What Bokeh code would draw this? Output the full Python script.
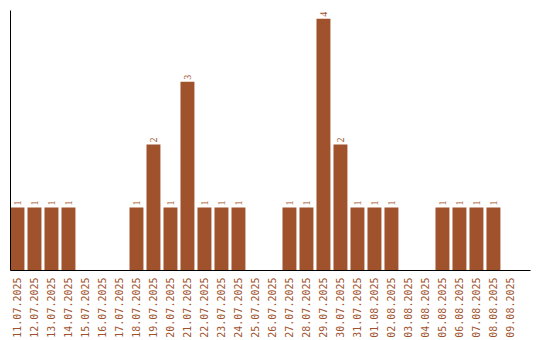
import math
from bokeh.plotting import figure
from bokeh.models import ColumnDataSource, Range1d, FixedTicker, LabelSet
from bokeh.embed import file_html
from bokeh.resources import INLINE

dates = ["11.07.2025", "12.07.2025", "13.07.2025", "14.07.2025", "15.07.2025",
         "16.07.2025", "17.07.2025", "18.07.2025", "19.07.2025", "20.07.2025",
         "21.07.2025", "22.07.2025", "23.07.2025", "24.07.2025", "25.07.2025",
         "26.07.2025", "27.07.2025", "28.07.2025", "29.07.2025", "30.07.2025",
         "31.07.2025", "01.08.2025", "02.08.2025", "03.08.2025", "04.08.2025",
         "05.08.2025", "06.08.2025", "07.08.2025", "08.08.2025", "09.08.2025"]
counts = [1, 1, 1, 1, 0, 0, 0, 1, 2, 1, 3, 1, 1, 1, 0,
          0, 1, 1, 4, 2, 1, 1, 1, 0, 0, 1, 1, 1, 1, 0]

COLOR = "#A0522D"
FONT = "DejaVu Sans Mono"

xs = list(range(len(dates)))
src = ColumnDataSource(dict(x=xs, y=counts))
lab_idx = [i for i, c in enumerate(counts) if c > 0]
lab_src = ColumnDataSource(dict(x=[xs[i] for i in lab_idx],
                                y=[counts[i] for i in lab_idx],
                                t=[str(counts[i]) for i in lab_idx]))

p = figure(width=540, height=340, output_backend="svg", toolbar_location=None,
           x_range=Range1d(-0.41, 30.18), y_range=Range1d(0, 4.13),
           min_border_left=10, min_border_right=10, min_border_top=10,
           min_border_bottom=70)
p.outline_line_color = None
p.xgrid.visible = False
p.ygrid.visible = False
p.background_fill_color = "white"
p.border_fill_color = "white"

p.vbar(x="x", top="y", width=0.82, bottom=0, source=src,
       fill_color=COLOR, line_color=None)

labels = LabelSet(x="x", y="y", text="t", source=lab_src, angle=math.pi / 2,
                  text_align="left", text_baseline="middle", y_offset=2,
                  text_font=FONT, text_font_size="10px", text_color=COLOR)
p.add_layout(labels)

xa = p.xaxis[0]
xa.ticker = FixedTicker(ticks=xs)
xa.major_label_overrides = {i: d for i, d in enumerate(dates)}
xa.major_label_orientation = math.pi / 2
xa.major_label_text_font = FONT
xa.major_label_text_font_size = "10px"
xa.major_label_text_color = COLOR
xa.major_tick_line_color = None
xa.minor_tick_line_color = None
xa.major_tick_out = 0
xa.major_tick_in = 0
xa.major_label_standoff = 7
xa.axis_line_color = "black"

ya = p.yaxis[0]
ya.ticker = FixedTicker(ticks=[])
ya.major_label_standoff = 0
ya.major_tick_line_color = None
ya.minor_tick_line_color = None
ya.major_tick_out = 0
ya.major_tick_in = 0
ya.axis_line_color = "black"

open("out.html", "w").write(file_html(p, INLINE))
